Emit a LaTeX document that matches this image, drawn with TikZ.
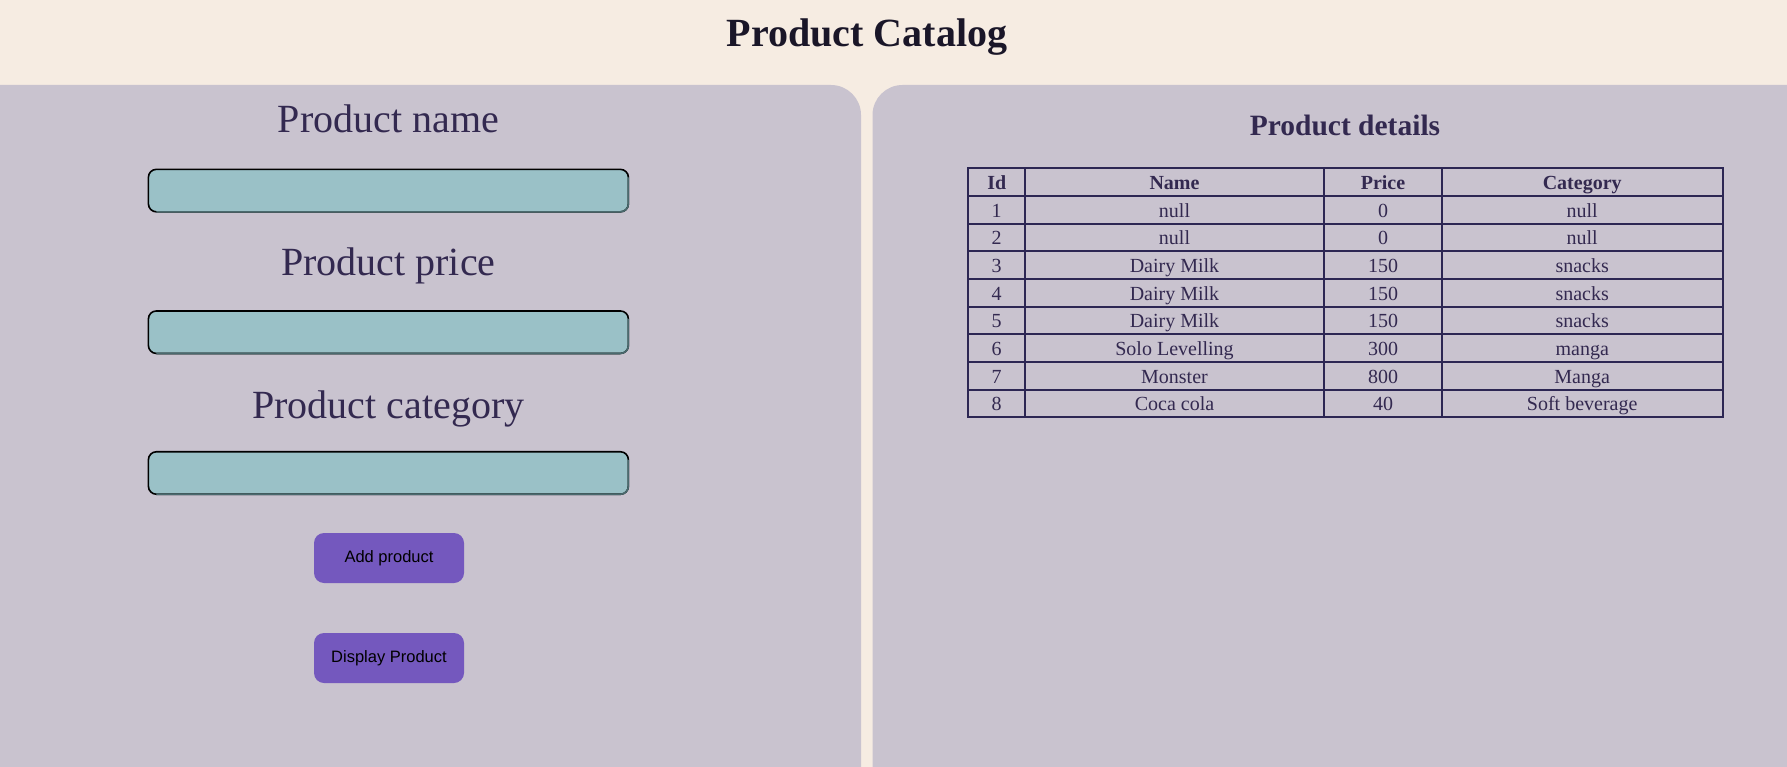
\documentclass[tikz,border=0pt]{standalone}
\usepackage{fontspec}
\setmainfont{Liberation Serif}
\newfontfamily\btnfont{Liberation Sans}
\usetikzlibrary{calc}
\definecolor{headbg}{RGB}{246,236,226}
\definecolor{panelbg}{RGB}{201,195,207}
\definecolor{inputbg}{RGB}{154,193,199}
\definecolor{inputlow}{RGB}{74,106,110}
\definecolor{btnbg}{RGB}{116,88,190}
\definecolor{titlecol}{RGB}{26,22,40}
\definecolor{lblcol}{RGB}{51,41,80}
\definecolor{tabcol}{RGB}{44,38,83}
\tikzset{
  lbl/.style={anchor=base, inner sep=0pt, text=lblcol, font=\fontsize{40pt}{48pt}\selectfont},
  inbox/.style={draw=black, line width=1.6pt, fill=inputbg, rounded corners=8pt,
    minimum width=480pt, minimum height=42.5pt, inner sep=0pt, outer sep=0pt},
  lowedge/.style={draw=inputlow, line width=1.6pt},
  btn/.style={fill=btnbg, rounded corners=10pt, minimum width=150pt, minimum height=50pt,
    inner sep=0pt, text=black, font=\btnfont\fontsize{16.5pt}{20pt}\selectfont},
  cell/.style={anchor=base, inner sep=0pt, text=lblcol, font=\fontsize{20pt}{24pt}\selectfont},
  hcell/.style={cell, font=\bfseries\fontsize{20pt}{24pt}\selectfont},
  tline/.style={draw=tabcol, line width=2pt}
}
\begin{document}
\begin{tikzpicture}[x=1pt,y=1pt]
\useasboundingbox (0,0) rectangle (1787,-767);
\fill[headbg] (0,0) rectangle (1787,-767);
% panels
\fill[panelbg] (0,-767) -- (0,-85) -- (831,-85) arc[start angle=90,end angle=0,radius=30] -- (861,-767) -- cycle;
\fill[panelbg] (872.5,-767) -- (872.5,-115) arc[start angle=180,end angle=90,radius=30] -- (1787,-85) -- (1787,-767) -- cycle;
% title
\node[anchor=base, inner sep=0pt, text=titlecol, font=\bfseries\fontsize{40pt}{48pt}\selectfont] (title) at (867,-46.7) {Product Catalog};
% left form
\node[lbl] (lname) at (388.4,-133) {Product name};
\node[inbox] (bname) at (388.4,-190.6) {};
\node[lbl] (lprice) at (388.4,-276) {Product price};
\node[inbox] (bprice) at (388.4,-332.2) {};
\node[lbl] (lcat) at (388.4,-418) {Product category};
\node[inbox] (bcat) at (388.4,-473.0) {};
\foreach \b in {bname,bprice,bcat}{
  \draw[lowedge] ($(\b.north east)+(0,-8)$) -- ($(\b.south east)+(0,8)$)
    arc[start angle=0,end angle=-90,radius=8] -- ($(\b.south west)+(8,0)$);
}
\node[btn] (addbtn) at (389,-558) {Add product};
\node[btn] (dispbtn) at (389,-658) {Display Product};
% right panel
\node[anchor=base, inner sep=0pt, text=lblcol, font=\bfseries\fontsize{29.5pt}{36pt}\selectfont] (details) at (1345,-136) {Product details};
% table grid
\draw[tline] (968.3,-168.3) rectangle (1722.7,-417.3);
\foreach \yy in {196.0,223.7,251.3,279.0,306.7,334.3,362.0,389.6}{
  \draw[tline] (968.3,-\yy) -- (1722.7,-\yy);
}
\foreach \xx in {1025,1324,1441.7}{
  \draw[tline] (\xx,-168.3) -- (\xx,-417.3);
}
\node[hcell] (hid) at (996.7,-189.5) {Id};
\node[hcell] (hname) at (1174.5,-189.5) {Name};
\node[hcell] (hprice) at (1383.0,-189.5) {Price};
\node[hcell] (hcat) at (1582.2,-189.5) {Category};
\foreach \a/\b/\c/\d [count=\i] in {1/null/0/null, 2/null/0/null, 3/Dairy Milk/150/snacks, 4/Dairy Milk/150/snacks, 5/Dairy Milk/150/snacks, 6/Solo Levelling/300/manga, 7/Monster/800/Manga, 8/Coca cola/40/Soft beverage}{
  \pgfmathsetmacro{\yb}{-189.5-27.67*\i}
  \node[cell] (id\i) at (996.7,\yb) {\a};
  \node[cell] (nm\i) at (1174.5,\yb) {\b};
  \node[cell] (pr\i) at (1383.0,\yb) {\c};
  \node[cell] (ct\i) at (1582.2,\yb) {\d};
}
\end{tikzpicture}
\end{document}
